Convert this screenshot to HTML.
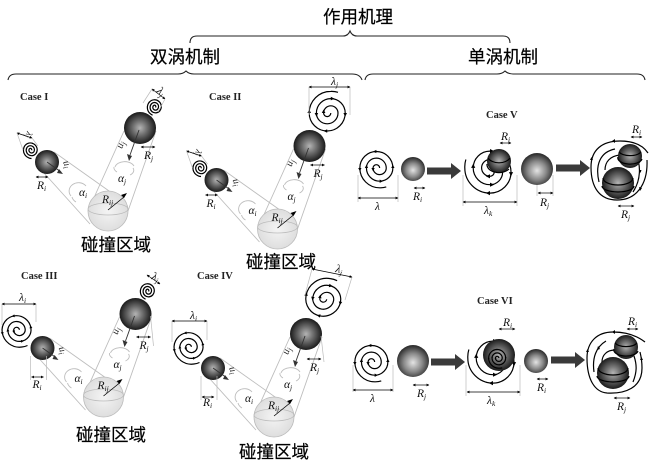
<!DOCTYPE html>
<html><head><meta charset="utf-8"><style>
html,body{margin:0;padding:0;background:#fff}
svg{display:block;filter:blur(.3px)}
.zh{font-family:"Liberation Sans","Noto Sans CJK SC",sans-serif;font-size:17.5px;fill:#000;stroke:#000;stroke-width:.2;text-anchor:middle}
.c{font-family:"Liberation Serif",serif;font-weight:bold;font-size:10.5px;fill:#222}
.m{font-family:"Liberation Serif",serif;font-style:italic;font-size:11.5px;fill:#111}
.u{font-family:"Liberation Serif",serif;font-style:italic;font-size:10px;fill:#222}
.s{font-size:7.5px}
.sp{fill:none;stroke:#000;stroke-width:1.2;vector-effect:non-scaling-stroke}
.g{fill:none;stroke:#bdbdbd;stroke-width:.9}
.d{stroke:#000;stroke-width:.7;fill:none;marker-start:url(#ms);marker-end:url(#me)}
.t{stroke:#bbb;stroke-width:.7}
.br{fill:none;stroke:#222;stroke-width:1.1}
</style></head><body>
<svg width="650" height="472" viewBox="0 0 650 472" xmlns="http://www.w3.org/2000/svg">
<defs>
<radialGradient id="dk" cx=".5" cy=".5" r=".5"><stop offset="0" stop-color="#b4b4b4"/><stop offset=".5" stop-color="#666"/><stop offset="1" stop-color="#1a1a1a"/></radialGradient>
<radialGradient id="lt" cx=".5" cy=".55" r=".52"><stop offset="0" stop-color="#e4e4e4"/><stop offset=".55" stop-color="#8a8a8a"/><stop offset="1" stop-color="#303030"/></radialGradient>
<radialGradient id="co"><stop offset="0" stop-color="#f4f4f4"/><stop offset="1" stop-color="#dedede"/></radialGradient>
<marker id="me" markerWidth="4" markerHeight="4" refX="3.5" refY="2" orient="auto"><path d="M0,0L4,2L0,4z" fill="#000"/></marker>
<marker id="ms" markerWidth="4" markerHeight="4" refX=".5" refY="2" orient="auto"><path d="M4,0L0,2L4,4z" fill="#000"/></marker>
<g id="spiral">
<path class="sp" d="M1,0A2,2 0 0 0 -3,0A4,4 0 0 0 5,0A6,6 0 0 0 -7,0A8,8 0 0 0 9,0A10,10 0 0 0 -11,0A12,12 0 0 0 1,12A12,12 0 0 0 5,11.5"/>
<path d="M-4,0l2,0l-1,2zM8,0l2,0l-1,-2zM-8,0l2,0l-1,-2zM-12,0l2,0l-1,2zM-1,-11l0,2l-2,-1zM1,7l0,2l2,-1z" fill="#000"/>
</g>
<g id="panel">
<path class="g" d="M124,131L88,211M156,131L128,211M44,173L90,224M54,152L126,203"/>
<circle cx="108" cy="211" r="20" fill="url(#co)" stroke="#bbb" stroke-width=".8"/>
<ellipse cx="108" cy="209" rx="20" ry="6" fill="none" stroke="#bbb" stroke-width=".7"/>
<path class="g" d="M71,196A9,8 0 0 1 86,186M115,167A10,7 0 0 1 134,166"/>
<path class="g" d="M114,167A10,6 0 0 0 117,172M133,168A10,6 0 0 1 130,175M72,197A9,8 0 0 0 76,202"/>
<circle cx="140" cy="128" r="16" fill="url(#dk)"/>
<circle cx="47" cy="162" r="12" fill="url(#dk)"/>
<path d="M139,130L130,155" stroke="#333" stroke-width=".9"/><path d="M127,154l5,2l-3,5z" fill="#333"/>
<path d="M47,162L61,172" stroke="#333" stroke-width=".9"/><path d="M59,169l-2,4l6,1z" fill="#333"/>
<path d="M108,210L124,197" stroke="#000" stroke-width=".8"/><path d="M121,195l3,3l3,-5z" fill="#000"/>
</g>
</defs>

<path class="br" d="M190,43Q190,36 197,36L343,36Q348,36 350,31Q352,36 357,36L503,36Q510,36 510,43"/>
<path class="br" d="M8,80Q9,74 16,74L178,74Q183,74 186,71Q189,74 194,74L352,74Q360,74 362,80"/>
<path class="br" d="M365,80Q366,74 373,74L497,74Q502,74 505,71Q508,74 513,74L637,74Q644,74 645,80"/>
<text class="zh" x="358" y="23">作用机理</text>
<text class="zh" x="185" y="63">双涡机制</text>
<text class="zh" x="503" y="63">单涡机制</text>
<text class="zh" x="116" y="251">碰撞区域</text>
<text class="zh" x="281" y="268">碰撞区域</text>
<text class="zh" x="111" y="441">碰撞区域</text>
<text class="zh" x="274" y="458">碰撞区域</text>

<text class="c" x="20" y="100">Case I</text>
<text class="c" x="209" y="100">Case II</text>
<text class="c" x="21" y="279">Case III</text>
<text class="c" x="197" y="279">Case IV</text>
<text class="c" x="486" y="118">Case V</text>
<text class="c" x="477" y="304">Case VI</text>

<!-- Case I -->
<use href="#panel"/>
<use href="#spiral" transform="translate(155,107) rotate(40) scale(.68)"/>
<use href="#spiral" transform="translate(31,150) rotate(20) scale(.68)"/>
<path class="d" d="M152,89L165,99"/><path class="d" d="M17,133L32,138"/>
<path class="t" d="M152,89L143,103M165,99L158,112M17,133L23,150M32,138L38,146"/>
<text class="m" x="156" y="92" transform="rotate(40 156 92)">λ<tspan class="s" dy="2">j</tspan></text>
<text class="m" x="27" y="131" transform="rotate(110 27 131)" style="font-size:9px">λ<tspan class="s" dy="2">i</tspan></text>
<path class="d" d="M141,147L155,147"/><path class="d" d="M36,177L48,177"/>
<text class="m" x="144" y="159">R<tspan class="s" dy="2">j</tspan></text>
<text class="m" x="37" y="189">R<tspan class="s" dy="2">i</tspan></text>
<text class="u" x="122" y="149" transform="rotate(-70 122 149)">u<tspan class="s" dy="2">j</tspan></text>
<text class="u" x="63" y="162" transform="rotate(70 63 162)">u<tspan class="s" dy="2">i</tspan></text>
<text class="m" x="79" y="196">α<tspan class="s" dy="2">i</tspan></text>
<text class="m" x="118" y="182">α<tspan class="s" dy="2">j</tspan></text>
<text class="m" x="102" y="203">R<tspan class="s" dy="2">ij</tspan></text>

<!-- Case II -->
<g transform="translate(169.5,18)">
<use href="#panel"/>
<use href="#spiral" transform="translate(31,150) rotate(20) scale(.68)"/>
<path class="d" d="M17,133L32,138"/>
<path class="t" d="M17,133L23,150M32,138L38,146"/>
<text class="m" x="27" y="131" transform="rotate(110 27 131)" style="font-size:9px">λ<tspan class="s" dy="2">i</tspan></text>
<path class="d" d="M141,147L155,147"/><path class="d" d="M36,177L48,177"/>
<text class="m" x="144" y="159">R<tspan class="s" dy="2">j</tspan></text>
<text class="m" x="37" y="189">R<tspan class="s" dy="2">i</tspan></text>
<text class="u" x="122" y="149" transform="rotate(-70 122 149)">u<tspan class="s" dy="2">j</tspan></text>
<text class="u" x="63" y="162" transform="rotate(70 63 162)">u<tspan class="s" dy="2">i</tspan></text>
<text class="m" x="79" y="196">α<tspan class="s" dy="2">i</tspan></text>
<text class="m" x="118" y="182">α<tspan class="s" dy="2">j</tspan></text>
<text class="m" x="102" y="203">R<tspan class="s" dy="2">ij</tspan></text>
</g>
<use href="#spiral" transform="translate(329,113) rotate(180) scale(-1.8,1.8)"/>
<path class="t" d="M309,87V115M350,87V115"/>
<path class="d" d="M309,87L350,87"/>
<text class="m" x="331" y="85">λ<tspan class="s" dy="2">j</tspan></text>

<!-- Case III -->
<g transform="translate(-4.5,186)">
<use href="#panel"/>
<path class="t" d="M35,170L35,194M51,170L51,194M155,130L158,160"/>
<path class="d" d="M36,191L48,191"/><path class="d" d="M141,151L155,151"/>
<text class="m" x="144" y="163">R<tspan class="s" dy="2">j</tspan></text>
<text class="m" x="37" y="202">R<tspan class="s" dy="2">i</tspan></text>
<text class="u" x="122" y="149" transform="rotate(-70 122 149)">u<tspan class="s" dy="2">j</tspan></text>
<text class="u" x="63" y="162" transform="rotate(70 63 162)">u<tspan class="s" dy="2">i</tspan></text>
<text class="m" x="79" y="196">α<tspan class="s" dy="2">i</tspan></text>
<text class="m" x="118" y="182">α<tspan class="s" dy="2">j</tspan></text>
<text class="m" x="102" y="203">R<tspan class="s" dy="2">ij</tspan></text>
</g>
<use href="#spiral" transform="translate(18,330) rotate(-8) scale(1.45)"/>
<use href="#spiral" transform="translate(148,291) rotate(40) scale(.68)"/>
<path class="t" d="M2,304V325M36,304V322"/>
<path class="d" d="M2,304L36,304"/>
<path class="d" d="M147,275L160,284"/>
<text class="m" x="19" y="301">λ<tspan class="s" dy="2">i</tspan></text>
<text class="m" x="151" y="279" transform="rotate(20 151 279)">λ<tspan class="s" dy="2">j</tspan></text>

<!-- Case IV -->
<g transform="translate(166,206)">
<use href="#panel"/>
<path class="t" d="M35,170L35,194M51,170L51,194M155,130L158,156"/>
<path class="d" d="M36,191L48,191"/><path class="d" d="M141,153L155,153"/>
<text class="m" x="144" y="165">R<tspan class="s" dy="2">j</tspan></text>
<text class="m" x="37" y="200">R<tspan class="s" dy="2">i</tspan></text>
<text class="u" x="122" y="149" transform="rotate(-70 122 149)">u<tspan class="s" dy="2">j</tspan></text>
<text class="u" x="63" y="162" transform="rotate(70 63 162)">u<tspan class="s" dy="2">i</tspan></text>
<text class="m" x="79" y="196">α<tspan class="s" dy="2">i</tspan></text>
<text class="m" x="118" y="182">α<tspan class="s" dy="2">j</tspan></text>
<text class="m" x="102" y="203">R<tspan class="s" dy="2">ij</tspan></text>
</g>
<use href="#spiral" transform="translate(190,347) rotate(-8) scale(1.45)"/>
<use href="#spiral" transform="translate(325,299) rotate(190) scale(-1.75,1.75)"/>
<path class="t" d="M172,321V342M207,321V340M312,269L305,295M352,277L345,300"/>
<path class="d" d="M172,321L207,321"/>
<path class="d" d="M312,269L352,277"/>
<text class="m" x="190" y="319">λ<tspan class="s" dy="2">i</tspan></text>
<text class="m" x="335" y="272" transform="rotate(12 335 272)">λ<tspan class="s" dy="2">j</tspan></text>

<!-- Case V -->
<use href="#spiral" transform="translate(378,168) scale(1.65)"/>
<path class="t" d="M358,175V202M398,175V202M463,175V206M517,175V206"/>
<path class="d" d="M358,198L398,198"/>
<text class="m" x="375" y="210">λ</text>
<circle cx="413" cy="169" r="12" fill="url(#lt)"/>
<path class="d" d="M414,188L425,188"/>
<text class="m" x="413" y="200">R<tspan class="s" dy="2">i</tspan></text>
<path d="M427,167.5H451V163L461,171L451,179V174.5H427Z" fill="#3a3a3a"/>
<use href="#spiral" transform="translate(490,170) rotate(90) scale(-2.1,2.1)"/>
<circle cx="499" cy="161" r="12" fill="url(#dk)"/>
<path class="sp" d="M488,158a12,8 0 0 0 22,0M487,164a12,8 0 0 0 22,5"/>
<path class="d" d="M500,143L511,143"/>
<text class="m" x="501" y="140">R<tspan class="s" dy="2">i</tspan></text>
<path class="d" d="M463,202L517,202"/>
<text class="m" x="484" y="214">λ<tspan class="s" dy="2">k</tspan></text>
<circle cx="537" cy="169" r="16" fill="url(#lt)"/>
<path class="t" d="M537,185V196M553,175V196"/>
<path class="d" d="M538,193L553,193"/>
<text class="m" x="540" y="206">R<tspan class="s" dy="2">j</tspan></text>
<path d="M556,164.5H580V160L590,168L580,176V171.5H556Z" fill="#3a3a3a"/>
<path class="sp" d="M647,160C648,185 636,200 617,200C600,200 591,188 591,167C591,150 602,141 620,141C632,141 642,144 648,153M599,182C595,165 600,152 615,149M636,155C641,165 641,180 633,192M605,170C605,162 610,156 620,155"/>
<path d="M590,160l3,0l-1.500,-3zM642,188l-3,-1l1,4zM612,141l3,-2l0,4zM639,170l2.500,0l-1,3z" fill="#000"/>
<circle cx="618" cy="183" r="16" fill="url(#dk)"/>
<circle cx="630" cy="156" r="12" fill="url(#dk)"/>
<path class="sp" d="M619,152a12,6 0 0 0 22,0M618,157a12,6 0 0 0 24,2M603,178a15,7 0 0 0 30,0M602,186a16,6 0 0 0 32,0"/>
<path class="d" d="M631,137L642,137"/>
<text class="m" x="632" y="133">R<tspan class="s" dy="2">i</tspan></text>
<path class="d" d="M618,206L634,206"/>
<text class="m" x="621" y="218">R<tspan class="s" dy="2">j</tspan></text>

<!-- Case VI -->
<use href="#spiral" transform="translate(373,362) scale(1.65)"/>
<path class="t" d="M353,365V392M393,365V392M466,365V396M520,365V396"/>
<path class="d" d="M353,390L393,390"/>
<text class="m" x="370" y="402">λ</text>
<circle cx="413" cy="361" r="16" fill="url(#lt)"/>
<path class="d" d="M413,385L429,385"/>
<text class="m" x="417" y="397">R<tspan class="s" dy="2">j</tspan></text>
<path d="M431,358.5H455V354L465,362L455,370V365.5H431Z" fill="#3a3a3a"/>
<use href="#spiral" transform="translate(493,360) rotate(90) scale(-2.1,2.1)"/>
<circle cx="499" cy="355" r="16" fill="url(#dk)"/>
<use href="#spiral" transform="translate(498,358) scale(.85)"/>
<path class="d" d="M499,329L515,329"/>
<text class="m" x="503" y="326">R<tspan class="s" dy="2">i</tspan></text>
<path class="d" d="M467,392L520,392"/>
<text class="m" x="487" y="404">λ<tspan class="s" dy="2">k</tspan></text>
<circle cx="536" cy="361" r="12" fill="url(#lt)"/>
<path class="d" d="M537,379L548,379"/>
<text class="m" x="537" y="391">R<tspan class="s" dy="2">i</tspan></text>
<path d="M551,356.5H575V352L585,360L575,368V363.500H551Z" fill="#3a3a3a"/>
<path class="sp" d="M645,342C636,335 625,332 613,332C597,332 587,342 587,358C587,380 595,392 607,393C625,394 642,388 642,368C642,362 641,356 640,352M594,372C592,358 596,347 606,341M634,356C637,365 637,372 633,382M602,362C602,355 607,350 615,350"/>
<path d="M586,352l3,0l-1.500,-3zM640,360l3,0l-1.500,-3zM612,332l3,-2l0,4zM597,350l3,-1l-2,-3z" fill="#000"/>
<circle cx="613" cy="373" r="16" fill="url(#dk)"/>
<circle cx="626" cy="347" r="12" fill="url(#dk)"/>
<path class="sp" d="M615,343a12,6 0 0 0 22,0M614,349a12,6 0 0 0 24,2M598,368a15,7 0 0 0 30,0M597,376a16,6 0 0 0 32,0"/>
<path class="d" d="M627,329L638,329"/>
<text class="m" x="628" y="325">R<tspan class="s" dy="2">i</tspan></text>
<path class="d" d="M614,398L630,398"/>
<text class="m" x="617" y="410">R<tspan class="s" dy="2">j</tspan></text>
</svg>
</body></html>
